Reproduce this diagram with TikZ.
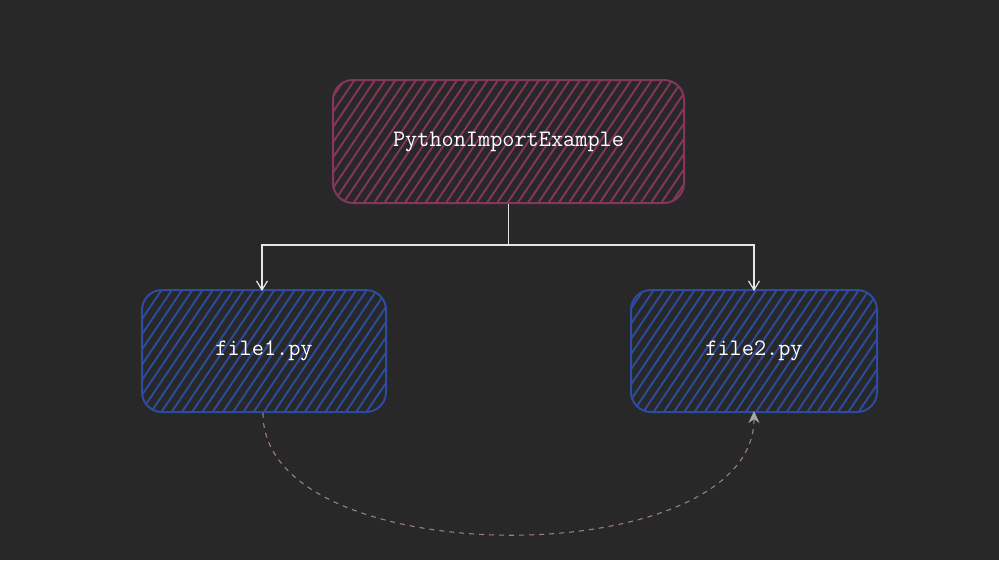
\documentclass[tikz,border=0pt]{standalone}
\usetikzlibrary{patterns.meta,arrows.meta}
\definecolor{bgdark}{HTML}{282828}
\definecolor{modred}{HTML}{86365A}
\definecolor{filblue}{HTML}{2C4CA2}
\definecolor{linkpink}{HTML}{A07A90}
\definecolor{wirewhite}{HTML}{E6E6E6}
\tikzset{
  hatched/.style={draw=#1, pattern={Lines[angle=56,distance=8.5pt,line width=1.9pt]}, pattern color=#1},
  wire/.style={draw=wirewhite, line width=1.2pt, -{Straight Barb[length=9pt,width=11pt]}},
}
\begin{document}
\begin{tikzpicture}[x=1pt,y=-1pt]
     % Canvas:
     \fill [bgdark] (0,0) rectangle (999,560);
     \useasboundingbox (0,0) rectangle (999,560);

     % Boxes:
     \begin{scope}[every node/.style={line width=2pt, rounded corners=20pt,
         text=white, font=\ttfamily\fontsize{23.6}{26}\selectfont}]
     \node [hatched=modred, minimum width=351pt, minimum height=123pt] (proj) at (508.5,141.5) {PythonImportExample};
     \node [hatched=filblue, minimum width=244pt, minimum height=122pt] (fileone) at (264,351) {file1.py};
     \node [hatched=filblue, minimum width=246pt, minimum height=122pt] (filetwo) at (754,351) {file2.py};
     \end{scope}

     % Tree connectors:
     \coordinate (split) at (508.5,245);
     \draw [wire] (proj.south) -- (split) -| ([xshift=-2pt,yshift=-2pt]fileone.north);
     \draw [wire] (split) -| ([yshift=-2pt]filetwo.north);

     % Import link:
     \draw [linkpink, line width=1.1pt, dash pattern=on 5pt off 5pt,
            -{Stealth[length=12pt,width=11pt,color=gray!70,fill=gray!70]}]
       ([xshift=-1pt]fileone.south) .. controls (262,575) and (754,575) .. ([yshift=2pt]filetwo.south);
\end{tikzpicture}
\end{document}
